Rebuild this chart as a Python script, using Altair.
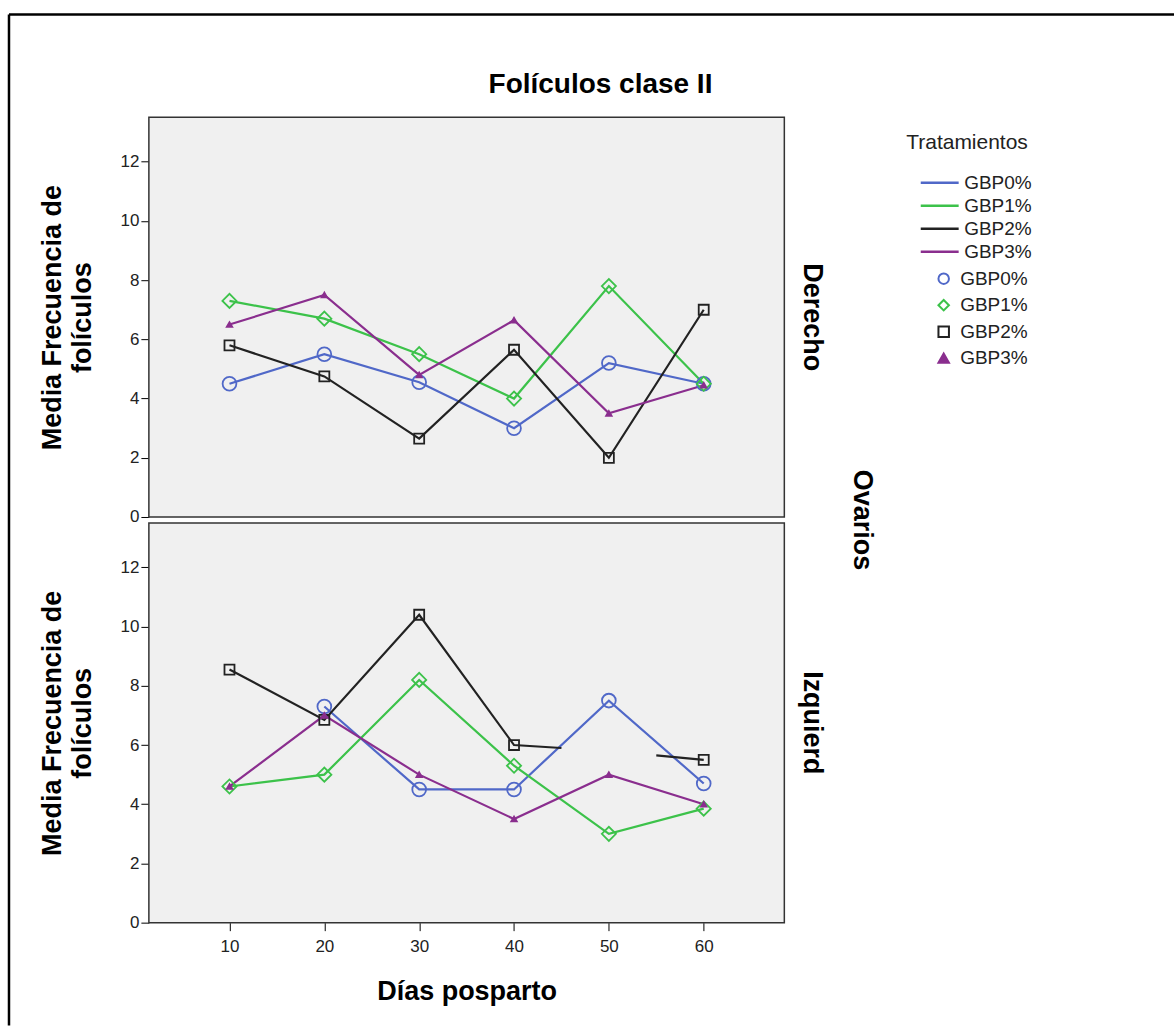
import altair as alt
import pandas as pd

# ---------------- data ----------------
dias = [10, 20, 30, 40, 50, 60]
tratamientos = ["GBP0%", "GBP1%", "GBP2%", "GBP3%"]
ovarios = ["Derecho", "Izquierd"]

der_gbp0 = [4.5, 5.5, 4.55, 3.0, 5.2, 4.5]
der_gbp1 = [7.3, 6.7, 5.5, 4.0, 7.8, 4.5]
der_gbp2 = [5.8, 4.75, 2.65, 5.65, 2.0, 7.0]
der_gbp3 = [6.5, 7.5, 4.8, 6.65, 3.5, 4.45]

izq_gbp0 = [None, 7.3, 4.5, 4.5, 7.5, 4.7]
izq_gbp1 = [4.6, 5.0, 8.2, 5.3, 3.0, 3.85]
izq_gbp2 = [8.55, 6.85, 10.4, 6.0, None, 5.5]
izq_gbp3 = [4.6, 7.0, 5.0, 3.5, 5.0, 4.0]

# half segments drawn next to the missing Izquierd GBP2% value
izq_gbp2_stub_dias = [45, 55]
izq_gbp2_stub_vals = [5.9, 5.65]

colores = ["#5068C8", "#3CC24A", "#222222", "#8A2E8E"]
rellenos = ["transparent", "transparent", "transparent", "#8A2E8E"]
formas = ["circle", "diamond", "square", "triangle-up"]
tamanos = [190, 200, 100, 30]

# marker legend entries get a trailing space so that the two legends stay separate
marcas = [t + " " for t in tratamientos]

# ---------------- table ----------------
series = {
    "Derecho": [der_gbp0, der_gbp1, der_gbp2, der_gbp3],
    "Izquierd": [izq_gbp0, izq_gbp1, izq_gbp2, izq_gbp3],
}
rows = []
for ov in ovarios:
    for t, m, tam, vals in zip(tratamientos, marcas, tamanos, series[ov]):
        seg = 0
        for d, v in zip(dias, vals):
            if v is None:
                seg += 1
                continue
            rows.append(dict(ovario=ov, dia=d, valor=v, trat=t, marca=m, tam=tam,
                             seg=f"{ov}-{t}-{seg}", kind="obs"))
for d, v in zip(izq_gbp2_stub_dias, izq_gbp2_stub_vals):
    seg = sum(1 for dd, vv in zip(dias, izq_gbp2) if vv is None and dd < d)
    rows.append(dict(ovario="Izquierd", dia=d, valor=v, trat="GBP2%", marca=marcas[2],
                     tam=tamanos[2], seg=f"Izquierd-GBP2%-{seg}", kind="stub"))
rows.append(dict(ovario="Derecho", dia=None, valor=None, trat=None, marca=None,
                 tam=None, seg=None, kind="frame"))
df = pd.DataFrame(rows)

FONT = "Liberation Sans"

x_enc = alt.X("dia:Q", scale=alt.Scale(domain=[1.5, 68.5], nice=False, zero=False),
              axis=alt.Axis(values=dias, title="Días posparto", grid=False, domain=False,
                            tickSize=8, tickColor="#000", labelFontSize=17, labelColor="#222",
                            labelPadding=8, titleFontSize=27, titleFontWeight="bold",
                            titlePadding=24, titleColor="#000"))
y_enc = alt.Y("valor:Q", scale=alt.Scale(domain=[0, 13.5], nice=False, zero=False),
              axis=alt.Axis(values=[0, 2, 4, 6, 8, 10, 12],
                            title=["Media Frecuencia de", "folículos"],
                            grid=False, domain=False, tickSize=8, tickColor="#000",
                            labelFontSize=17, labelColor="#222", labelPadding=2,
                            titleFontSize=27, titleFontWeight="bold", titleLineHeight=30,
                            titlePadding=24, titleColor="#000"))

lineas = alt.Chart().mark_line(strokeWidth=2.2).encode(
    x=x_enc, y=y_enc,
    stroke=alt.Stroke("trat:N", scale=alt.Scale(domain=tratamientos, range=colores),
                      legend=alt.Legend(title="Tratamientos", orient="none",
                                        legendX=758, legendY=15,
                                        symbolType="M-3,0H3", symbolSize=160,
                                        symbolStrokeWidth=2.5, symbolOffset=24,
                                        labelOffset=15, rowPadding=3, titlePadding=20,
                                        titleFontSize=21, titleFontWeight="normal",
                                        titleColor="#222", labelFontSize=19,
                                        labelColor="#222")),
    detail="seg:N",
    order="dia:Q",
).transform_filter("datum.kind == 'obs' || datum.kind == 'stub'")

leyenda_puntos = alt.Legend(title=None, orient="none", legendX=758, legendY=152,
                            symbolSize=110, symbolStrokeWidth=2,
                            symbolOffset=28, labelOffset=7, rowPadding=6.5,
                            labelFontSize=19, labelColor="#222")
puntos = alt.Chart().mark_point(filled=False, strokeWidth=1.8, opacity=1).encode(
    x="dia:Q", y="valor:Q",
    color=alt.Color("marca:N", scale=alt.Scale(domain=marcas, range=colores),
                    legend=leyenda_puntos),
    shape=alt.Shape("marca:N", scale=alt.Scale(domain=marcas, range=formas),
                    legend=leyenda_puntos),
    fill=alt.Fill("marca:N", scale=alt.Scale(domain=marcas, range=rellenos), legend=None),
    size=alt.Size("tam:Q", scale=None),
).transform_filter("datum.kind == 'obs'")

marco_sup = alt.Chart().mark_rule(color="#000", strokeWidth=2.5).encode(
    x=alt.value(-140), x2=alt.value(1026), y=alt.value(-103), y2=alt.value(-103)
).transform_filter("datum.kind == 'frame'")
marco_izq = alt.Chart().mark_rule(color="#000", strokeWidth=2.5).encode(
    x=alt.value(-140), x2=alt.value(-140), y=alt.value(-103), y2=alt.value(909)
).transform_filter("datum.kind == 'frame'")

panel = alt.layer(lineas, puntos, marco_sup, marco_izq, data=df).properties(
    width=636, height=400)

chart = panel.facet(
    row=alt.Row("ovario:N", sort=ovarios, title="Ovarios",
                header=alt.Header(labelAngle=90, labelOrient="right", labelFontSize=27,
                                  labelFontWeight="bold", labelColor="#000", labelPadding=14,
                                  titleOrient="right", titleAngle=90, titleFontSize=27,
                                  titleFontWeight="bold", titleColor="#000",
                                  titlePadding=12)),
    spacing=6,
    bounds="flush",
).properties(
    title=alt.TitleParams("Folículos clase II", fontSize=28, fontWeight="bold",
                          color="#000", anchor="middle", offset=-87, dx=9),
    padding={"left": 7, "top": 12, "right": 0, "bottom": 0},
).configure(font=FONT).configure_view(
    fill="#F0F0F0", stroke="#333", strokeWidth=1.5
)

chart.save("out.html", embed_options={"renderer": "svg", "actions": False})
